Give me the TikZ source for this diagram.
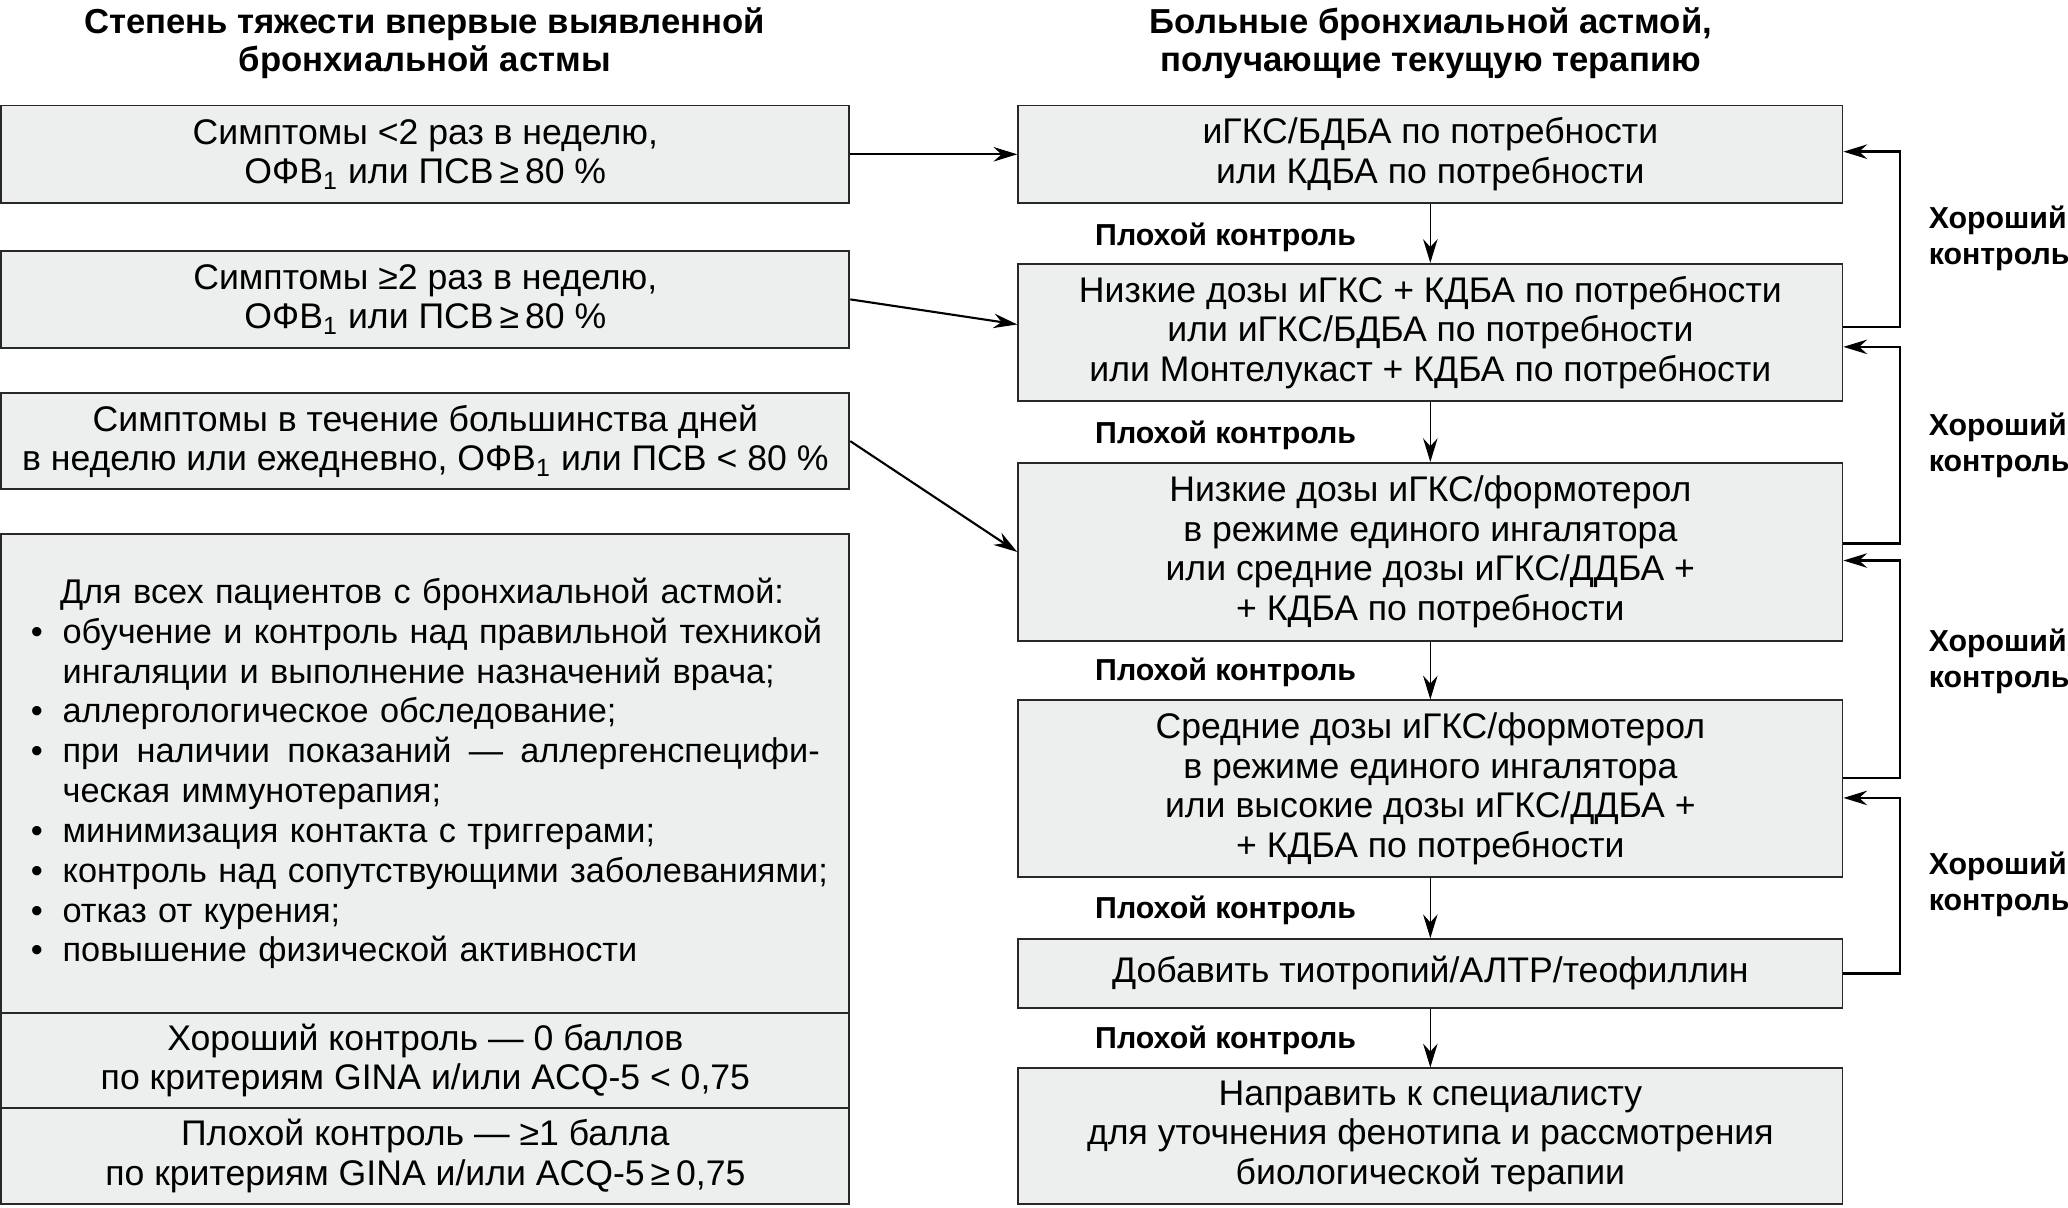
\documentclass[tikz,border=0pt]{standalone}
\usepackage{fontspec}
\setmainfont{Liberation Sans}
\usetikzlibrary{arrows.meta,calc}
\definecolor{boxfill}{RGB}{237,238,238}
\definecolor{boxline}{RGB}{40,40,40}
\newcommand\mainf{\fontsize{13.5}{15}\selectfont}
\newcommand\listf{\fontsize{13}{15.1}\selectfont}
\newcommand\labf{\bfseries\fontsize{11.5}{13.5}\selectfont}
\newcommand\titf{\bfseries\fontsize{13.15}{14.5}\selectfont}
\newcommand\bul{\makebox[12pt][l]{•}}
\newcommand\sub[1]{\textsubscript{#1}}
\newcommand\fsp{\hskip 0pt plus 1fill\relax}
\begin{document}
\begin{tikzpicture}[x=0.5pt,y=-0.5pt,
  box/.style={draw=boxline, line width=0.7pt, fill=boxfill, inner sep=0pt, align=center, font=\mainf},
  wh/.style 2 args={minimum width=#1*0.5pt, minimum height=#2*0.5pt},
  lab/.style={font=\labf, inner sep=0pt, align=left},
  titl/.style={font=\titf, inner sep=0pt, align=center},
  arr/.style={-{Stealth[length=9pt,width=5.5pt,inset=3pt]}, line width=0.6pt},
  fb/.style={-{Stealth[length=9pt,width=5.5pt,inset=3pt]}, line width=0.9pt},
  harr/.style={-{Stealth[length=9pt,width=5.5pt,inset=3pt]}, line width=0.8pt}]
\useasboundingbox (0,0) rectangle (1568,915.2);

% titles
\node[titl] (T1) at (322,32.5) {Степень тяжести впервые выявленной\\бронхиальной астмы};
\node[titl] (T2) at (1085,32.5) {Больные бронхиальной астмой,\\получающие текущую терапию};

% left column
\node[box, wh={643}{74}] (L1) at (322.5,117) {Симптомы <2 раз в неделю,\\ОФВ\sub{1} или ПСВ\,≥\,80~\%};
\node[box, wh={643}{74}] (L2) at (322.5,227) {Симптомы ≥2 раз в неделю,\\ОФВ\sub{1} или ПСВ\,≥\,80~\%};
\node[box, wh={643}{73}] (L3) at (322.5,334.5) {Симптомы в течение большинства дней\\в неделю или ежедневно, ОФВ\sub{1} или ПСВ < 80~\%};
\node[box, wh={643}{363}, text width=299pt, align=left, font=\listf] (L4) at (322.5,586.5) {%
\hspace*{11pt}\mbox{Для всех пациентов с бронхиальной астмой:}\\
\bul\mbox{обучение и контроль над правильной техникой}\\
\hspace*{12pt}\mbox{ингаляции и выполнение назначений врача;}\\
\bul\mbox{аллергологическое обследование;}\\
\bul\hbox to 287pt{при\fsp наличии\fsp показаний\fsp —\fsp аллергенспецифи-}\\
\hspace*{12pt}\mbox{ческая иммунотерапия;}\\
\bul\mbox{минимизация контакта с триггерами;}\\
\bul\mbox{контроль над сопутствующими заболеваниями;}\\
\bul\mbox{отказ от курения;}\\
\bul\mbox{повышение физической активности}};
\node[box, wh={643}{72}] (L5) at (322.5,804) {Хороший контроль — 0 баллов\\по критериям GINA и/или ACQ-5 < 0,75};
\node[box, wh={643}{73}] (L6) at (322.5,876.5) {Плохой контроль — ≥1 балла\\по критериям GINA и/или ACQ-5\,≥\,0,75};

% right column
\node[box, wh={625}{74}] (R1) at (1084.5,117) {иГКС/БДБА по потребности\\или КДБА по потребности};
\node[box, wh={625}{104}] (R2) at (1084.5,252) {Низкие дозы иГКС + КДБА по потребности\\или иГКС/БДБА по потребности\\или Монтелукаст + КДБА по потребности};
\node[box, wh={625}{135}] (R3) at (1084.5,418.5) {Низкие дозы иГКС/формотерол\\в режиме единого ингалятора\\или средние дозы иГКС/ДДБА +\\+ КДБА по потребности};
\node[box, wh={625}{134}] (R4) at (1084.5,598) {Средние дозы иГКС/формотерол\\в режиме единого ингалятора\\или высокие дозы иГКС/ДДБА +\\+ КДБА по потребности};
\node[box, wh={625}{52}] (R5) at (1084.5,738) {Добавить тиотропий/АЛТР/теофиллин};
\node[box, wh={625}{103}] (R6) at (1084.5,861.5) {Направить к специалисту\\для уточнения фенотипа и рассмотрения\\биологической терапии};

% poor control labels
\node[lab, anchor=west] (P1) at (830,180) {Плохой контроль};
\node[lab, anchor=west] (P2) at (830,330) {Плохой контроль};
\node[lab, anchor=west] (P3) at (830,510) {Плохой контроль};
\node[lab, anchor=west] (P4) at (830,690) {Плохой контроль};
\node[lab, anchor=west] (P5) at (830,789) {Плохой контроль};

% good control labels
\node[lab, anchor=west] (G1) at (1462,180.5) {Хороший\\контроль};
\node[lab, anchor=west] (G2) at (1462,337.5) {Хороший\\контроль};
\node[lab, anchor=west] (G3) at (1462,501.5) {Хороший\\контроль};
\node[lab, anchor=west] (G4) at (1462,670.5) {Хороший\\контроль};

% down arrows
\draw[arr] (R1.south) -- (R2.north);
\draw[arr] (R2.south) -- (R3.north);
\draw[arr] (R3.south) -- (R4.north);
\draw[arr] (R4.south) -- (R5.north);
\draw[arr] (R5.south) -- (R6.north);

% left to right arrows
\draw[harr] (L1.east) -- (R1.west);
\draw[harr] (L2.east) -- ([yshift=3pt]R2.west);
\draw[harr] (L3.east) -- (R3.west);

% feedback loops
\draw[fb] ([yshift=2pt]R2.east) -- ++(43,0) |- ([yshift=1pt]R1.east);
\draw[fb] ([yshift=3.25pt]R3.east) -- ++(43,0) |- ([yshift=-5.5pt]R2.east);
\draw[fb] ([yshift=4pt]R4.east) -- ++(43,0) |- ([yshift=-3.25pt]R3.east);
\draw[fb] (R5.east) -- ++(43,0) |- ([yshift=-3.5pt]R4.east);
\end{tikzpicture}
\end{document}
